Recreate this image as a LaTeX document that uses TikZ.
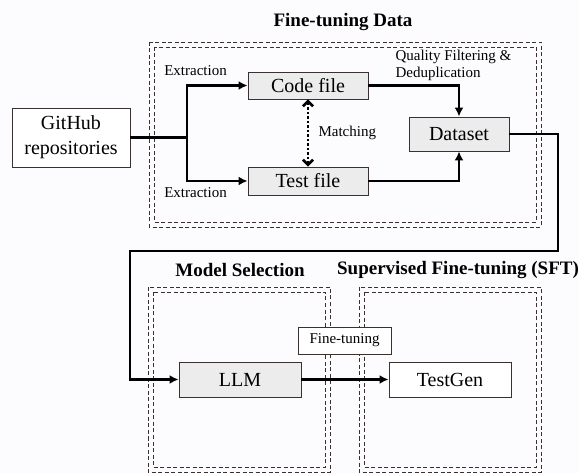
\documentclass[tikz,border=0pt]{standalone}
\usepackage{fontspec}
\setmainfont{Liberation Serif}
\usetikzlibrary{arrows.meta}
\definecolor{boxgray}{HTML}{ECECEC}
\definecolor{edgegray}{HTML}{3A3030}
\definecolor{paper}{HTML}{FCFCFE}
\tikzset{
    blk/.style={
        draw=edgegray, line width=0.9pt, inner sep=0pt, align=center,
        font=\fontsize{20}{25}\selectfont
    },
    grayblk/.style={blk, fill=boxgray},
    lab/.style={font=\fontsize{15}{17}\selectfont},
    ttl/.style={font=\bfseries\fontsize{19}{22}\selectfont},
    flow/.style={line width=2.6pt, -{Latex[length=9pt,width=9pt]}},
    dashframe/.style={draw=edgegray, line width=0.9pt, dash pattern=on 4pt off 2.5pt}
}

\begin{document}
\begin{tikzpicture}[x=10pt,y=-10pt]

\fill[paper] (0,0) rectangle (57.9,47.3);
\useasboundingbox (0,0) rectangle (57.9,47.3);

% double dashed frames
\foreach \xa/\ya/\xb/\yb in {14.9/4.2/54.1/22.7, 14.8/28.7/33.0/47.2, 35.9/28.7/54.1/47.2} {
  \draw[dashframe] (\xa,\ya) rectangle (\xb,\yb);
  \draw[dashframe] (\xa+0.5,\ya+0.5) rectangle (\xb-0.5,\yb-0.5);
}

\node[ttl] (titleData) at (34.3,2.2) {Fine-tuning Data};
\node[ttl] (titleModel) at (24.0,27.0) {Model Selection};
\node[ttl] (titleSft) at (45.8,27.0) {Supervised Fine-tuning (SFT)};

% blocks
\node[blk, fill=white, minimum width=118pt, minimum height=59pt] (github) at (7.1,13.75) {GitHub\\repositories};
\node[grayblk, minimum width=120pt, minimum height=27pt] (code) at (30.8,8.55) {Code file};
\node[grayblk, minimum width=120pt, minimum height=28pt] (test) at (30.8,18.1) {Test file};
\node[grayblk, minimum width=100pt, minimum height=34pt] (dataset) at (45.9,13.4) {Dataset};
\node[grayblk, minimum width=122pt, minimum height=35pt] (llm) at (24.0,37.95) {LLM};
\node[blk, fill=white, minimum width=122pt, minimum height=35pt] (testgen) at (45.0,37.95) {TestGen};

% labels
\node[lab] (extTop) at (19.55,7.1) {Extraction};
\node[lab] (extBot) at (19.55,19.3) {Extraction};
\node[lab, anchor=west] (match) at (31.5,13.3) {Matching};
\node[lab, anchor=west, align=left] (quality) at (39.2,6.55) {Quality Filtering \&\\Deduplication};

% connectors
\coordinate (split) at (18.7,13.75);
\draw[line width=2.6pt] (github.east) -- (split);
\draw[flow] (split) |- (code.west);
\draw[flow] (split) |- (test.west);
\draw[flow] (code.east) -| (dataset.north);
\draw[flow] (test.east) -| (dataset.south);
\draw[line width=2.6pt, dash pattern=on 2.5pt off 2pt,
  {Straight Barb[length=5pt,width=10pt]}-{Straight Barb[length=5pt,width=10pt]}] (code.south) -- (test.north);

\coordinate (turnA) at (55.8,25.1);
\coordinate (turnB) at (13.0,25.1);
\draw[flow] (dataset.east) -| (turnA) -- (turnB) |- (llm.west);
\draw[flow] (llm.east) -- (testgen.west);

\node[blk, fill=white, font=\fontsize{15}{17}\selectfont, minimum width=93pt, minimum height=27pt] (ftlab) at (34.45,34.05) {Fine-tuning};

\end{tikzpicture}
\end{document}
